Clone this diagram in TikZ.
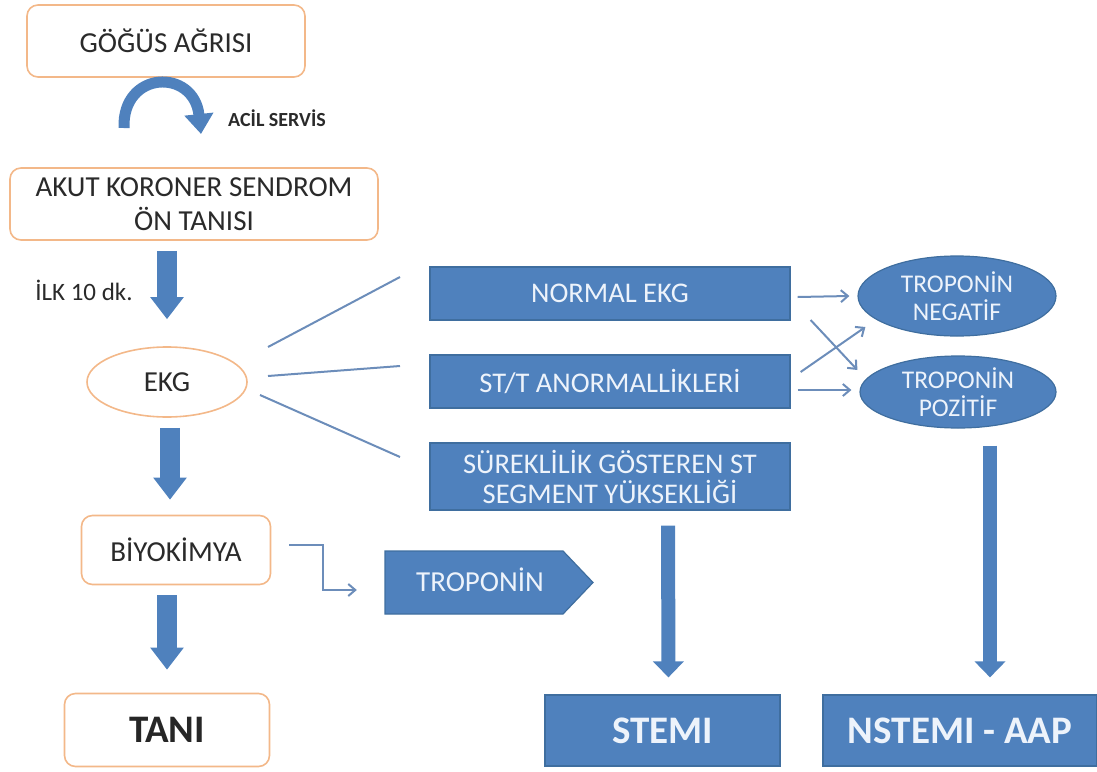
\documentclass[tikz,border=0pt]{standalone}
\usepackage{fontspec}
\setmainfont{Carlito}
\usetikzlibrary{arrows.meta,shapes.geometric}
\definecolor{ob}{HTML}{F3B889}
\definecolor{bl}{HTML}{4F81BD}
\definecolor{bld}{HTML}{3F6E9F}
\definecolor{tx}{HTML}{2A2A2A}
\definecolor{wt}{HTML}{EDF3FB}
\definecolor{ln}{HTML}{6C8DBA}
\tikzset{
  obox/.style={draw=ob, line width=1.6pt, rounded corners=11pt, fill=white, text=tx,
    font=\fontsize{29}{34}\selectfont, align=center, inner sep=0pt},
  oell/.style={ellipse, draw=ob, line width=1.6pt, fill=white, text=tx,
    font=\fontsize{29}{34}\selectfont, inner sep=0pt},
  bbox/.style={draw=bld, line width=1.2pt, fill=bl, text=wt,
    font=\fontsize{28.5}{30}\selectfont, align=center, inner sep=0pt},
  bell/.style={ellipse, draw=bld, line width=1.2pt, fill=bl, text=wt,
    font=\fontsize{25.5}{28}\selectfont, align=center, inner sep=0pt},
  bigbox/.style={bbox, font=\fontsize{39}{40}\selectfont\bfseries},
  blockarr/.style={draw=bl, line width=20pt, -{Triangle[length=22pt,width=32pt]}},
  smallblock/.style={draw=bl, line width=14pt, -{Triangle[length=16pt,width=30pt]}},
  thinline/.style={draw=ln, line width=2pt},
  thinarr/.style={draw=ln, line width=2pt, -{Straight Barb[length=7pt,width=12pt]}},
  lbl/.style={text=tx, inner sep=0pt}
}
\begin{document}
\begin{tikzpicture}[x=1pt,y=-1pt]
\useasboundingbox (0,0) rectangle (1097,771);
% left column
\node[obox, minimum width=278, minimum height=72] (gogus) at (166,41) {GÖĞÜS AĞRISI};
\node[obox, minimum width=368, minimum height=72] (akut) at (194,204) {AKUT KORONER SENDROM\\ÖN TANISI};
\node[oell, minimum width=160, minimum height=70] (ekg) at (167,382) {EKG};
\node[obox, minimum width=189, minimum height=69] (biyo) at (176,550) {BİYOKİMYA};
\node[obox, minimum width=205, minimum height=73, font=\fontsize{39}{40}\selectfont\bfseries, text=black!85] (tani) at (167,730) {TANI};
% labels
\node[lbl, font=\fontsize{20}{22}\selectfont\bfseries] (acil) at (277,118) {ACİL SERVİS};
\node[lbl, font=\fontsize{25}{28}\selectfont] (ilk) at (84,290) {İLK 10 dk.};
% curved arrow
\coordinate (cs) at (124,128);
\coordinate (ce) at (201,134);
\draw[draw=bl, line width=11pt, -{Triangle[length=20pt,width=28pt]}] (cs) .. controls (122,70) and (194,68) .. (ce);
% block arrows down
\draw[blockarr, shorten <=10pt, shorten >=27pt] (ekg.north |- akut.south) -- (ekg.north);
\draw[blockarr, shorten <=10pt, shorten >=15pt] ([xshift=3pt]ekg.south) -- ([xshift=3pt]ekg.south |- biyo.north);
\draw[blockarr, shorten <=10pt, shorten >=23pt] (tani.north |- biyo.south) -- (tani.north);
% middle boxes
\node[bbox, minimum width=360, minimum height=53] (normal) at (610,293.5) {NORMAL EKG};
\node[bbox, minimum width=360, minimum height=53] (stt) at (610,381.5) {ST/T ANORMALLİKLERİ};
\node[bbox, minimum width=360, minimum height=67] (surek) at (610,476.5) {SÜREKLİLİK GÖSTEREN ST\\SEGMENT YÜKSEKLİĞİ};
% lines from EKG
\coordinate (e1) at (268,347); \coordinate (n1) at (400,277);
\coordinate (e2) at (268,376); \coordinate (n2) at (400,366);
\coordinate (e3) at (260,395); \coordinate (n3) at (400,457);
\draw[thinline] (e1) -- (n1);
\draw[thinline] (e2) -- (n2);
\draw[thinline] (e3) -- (n3);
% troponin ellipses
\node[bell, minimum width=198, minimum height=80] (neg) at (957,296) {TROPONİN\\NEGATİF};
\node[bell, minimum width=196, minimum height=72] (poz) at (958,392) {TROPONİN\\POZİTİF};
\draw[thinarr] ([xshift=7pt,yshift=-3.5pt]normal.east) -- ([xshift=-8pt]neg.west);
\draw[thinarr] ([xshift=7pt,yshift=-8.5pt]stt.east) -- ([xshift=-8pt,yshift=2pt]poz.west);
\draw[thinarr] ([xshift=20pt,yshift=-26.5pt]normal.east) -- ([xshift=-2pt,yshift=22pt]poz.west);
\draw[thinarr] ([xshift=10pt,yshift=9.5pt]stt.east) -- ([xshift=8pt,yshift=-31pt]neg.west);
% troponin pentagon
\fill[bl] (385,551) -- (563,551) -- (593,582.5) -- (563,614) -- (385,614) -- cycle;
\draw[bld, line width=1.2pt] (385,551) -- (563,551) -- (593,582.5) -- (563,614) -- (385,614) -- cycle;
\node[minimum width=208, minimum height=63, inner sep=0pt] (trop) at (489,582.5) {};
\node[text=wt, font=\fontsize{29}{30}\selectfont, inner sep=0pt] (troptxt) at (480,580) {TROPONİN};
\draw[thinarr] ([xshift=18pt,yshift=5pt]biyo.east) -- ++(34,0) |- ([xshift=-28pt,yshift=-7.5pt]trop.west);
% bottom boxes
\node[bigbox, minimum width=235, minimum height=71] (stemi) at (662.5,730.5) {STEMI};
\node[bigbox, minimum width=274, minimum height=71] (nstemi) at (960,730.5) {NSTEMI - AAP};
\draw[smallblock, shorten <=15pt, shorten >=17pt] ([xshift=58pt]surek.south) -- ([xshift=6pt]stemi.north);
\draw[smallblock, shorten <=17pt, shorten >=17pt] ([xshift=32pt]poz.south) -- ([xshift=30pt]nstemi.north);
\end{tikzpicture}
\end{document}
